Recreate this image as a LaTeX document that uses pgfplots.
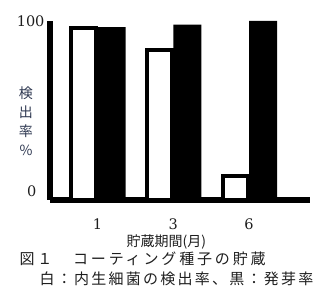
\documentclass[border=0pt]{standalone}
\usepackage{fontspec}
\setmainfont{DejaVu Serif}
\newfontfamily\cjk{Noto Sans CJK JP}
\newfontfamily\cjksp[LetterSpace=15]{Noto Sans CJK JP}
\newfontfamily\cjkspb[LetterSpace=19]{Noto Sans CJK JP}
\usepackage{pgfplots}
\pgfplotsset{compat=1.18}
\definecolor{ylab}{RGB}{45,55,80}
\definecolor{txt}{RGB}{30,30,30}
\begin{document}
\begin{tikzpicture}
\begin{axis}[
  name=ax,
  scale only axis, width=260pt, height=179pt,
  xmin=-0.627, xmax=2.805, ymin=0, ymax=100,
  axis x line=bottom, axis y line=left,
  axis line style={-, line width=5.5pt, black},
  clip=false,
  major tick length=0pt,
  xtick={0,1,2}, xticklabels={1,3,6},
  ytick={100},
  extra y ticks={0},
  extra y tick style={yticklabel style={yshift=9pt, xshift=-8pt}},
  /pgf/number format/assume math mode=true,
  tick label style={font=\fontsize{14.5}{14.5}\selectfont, text=txt},
  yticklabel style={xshift=-2pt},
  xticklabel style={yshift=-15pt},
  xlabel={貯蔵期間(月)},
  xlabel style={at={(axis cs:0.91,0)}, anchor=center, yshift=-42pt, font=\cjk\fontsize{14}{14}\selectfont, text=txt},
  ylabel={検\\出\\率\\\%},
  ylabel style={rotate=-90, at={(rel axis cs:0,0.441)}, anchor=center, xshift=-24pt, align=center, font=\cjk\fontsize{14}{19}\selectfont, text=ylab},
]
\addplot[ybar, bar width=25pt, bar shift=-14pt, fill=white, draw=black, line width=4pt] coordinates {(0,96) (1,84) (2,13.5)};
\addplot[ybar, bar width=28pt, bar shift=14pt, fill=black, draw=none] coordinates {(0,96.6) (1,98) (2,100)};
\end{axis}
\node[anchor=west, text=txt, font=\cjkspb\fontsize{15}{15}\selectfont] at (-34pt,-59pt) {図１　コーティング種子の貯蔵};
\node[anchor=west, text=txt, font=\cjksp\fontsize{15}{15}\selectfont] at (-14pt,-79pt) {白：内生細菌の検出率、黒：発芽率};
\pgfresetboundingbox
\useasboundingbox (-50pt,-97pt) rectangle (282pt,200pt);
\end{tikzpicture}
\end{document}
